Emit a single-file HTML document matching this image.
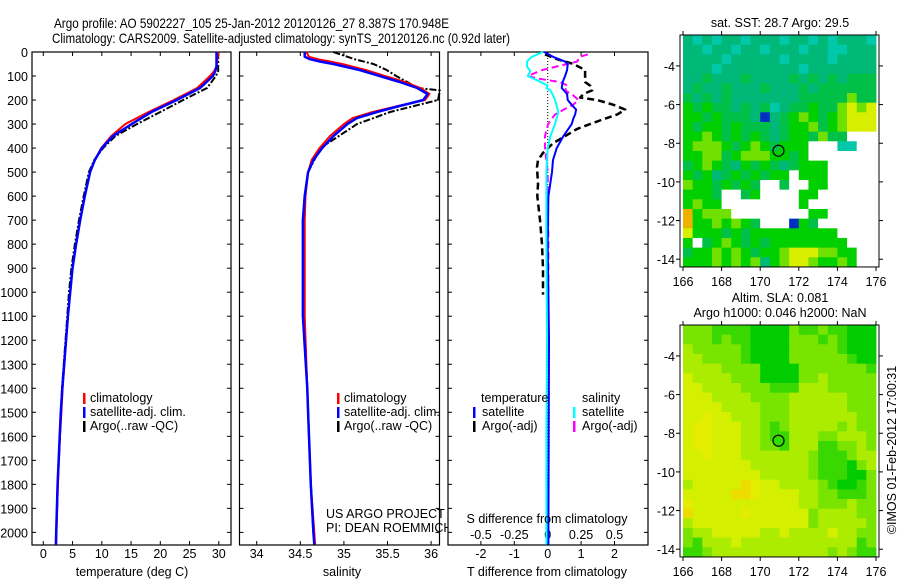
<!DOCTYPE html>
<html><head><meta charset="utf-8"><style>
html,body{margin:0;padding:0;background:#fff;}
svg{display:block;font-family:"Liberation Sans",sans-serif;}
</style></head><body>
<svg id="fig" width="900" height="580" viewBox="0 0 900 580" xmlns="http://www.w3.org/2000/svg">
<text x="54" y="28" font-size="14" textLength="395" lengthAdjust="spacingAndGlyphs">Argo profile: AO 5902227_105 25-Jan-2012 20120126_27 8.387S 170.948E</text>
<text x="52" y="43" font-size="14" textLength="458" lengthAdjust="spacingAndGlyphs">Climatology: CARS2009. Satellite-adjusted climatology: synTS_20120126.nc (0.92d later)</text>
<text x="896" y="450" font-size="12.5" transform="rotate(-90 896 450)" text-anchor="middle">©IMOS 01-Feb-2012 17:00:31</text>
<g id="plots"></g>
</svg>
<script>
// ---------- profile data ----------
const depthT = [0,60,80,100,150,200,250,300,350,400,450,500,600,700,800,900,1000,1100,1400,1500,1600,1800,2000,2050];
const tempSat = [29.6,29.6,29.4,29.0,26.8,22.8,18.5,15.1,11.9,10.0,8.8,8.0,7.1,6.3,5.6,5.0,4.6,4.2,3.25,3.0,2.8,2.45,2.2,2.15];
const tempClim = [29.9,29.6,29.2,28.5,26.3,22.3,18.0,14.0,11.6,9.9,8.8,8.0,7.1,6.3,5.6,5.0,4.6,4.2,3.3,3.1,2.85,2.5,2.25,2.2];
const depthTA = [0,80,100,150,200,250,300,350,400,450,500,600,700,800,900,1000,1100,1400,1600,1800,2000];
const tempArgo = [29.9,29.9,29.5,28.0,23.9,20.0,16.0,12.3,10.2,8.7,7.8,6.9,6.1,5.4,4.8,4.4,4.1,3.2,2.8,2.45,2.2];

const depthS = [0,20,30,40,50,75,100,125,150,175,200,225,250,275,300,350,400,450,500,600,700,1100,1400,1500,1800,2000,2050];
const salSat = [34.55,34.55,34.61,34.73,34.88,35.18,35.41,35.64,35.84,35.96,35.91,35.64,35.38,35.15,35.04,34.88,34.75,34.65,34.59,34.55,34.53,34.53,34.58,34.59,34.62,34.65,34.66];
const salClim = [34.57,34.6,34.7,34.85,34.98,35.25,35.47,35.7,35.88,35.98,35.93,35.62,35.33,35.1,35.0,34.84,34.72,34.63,34.59,34.56,34.55,34.55,34.58,34.59,34.62,34.66,34.67];
const depthSA = [0,30,50,75,100,150,160,200,250,300,400,500,600,700,1100,1400,1800,2000];
const salArgo = [34.88,35.12,35.34,35.49,35.6,35.85,36.1,36.08,35.53,35.15,34.73,34.59,34.55,34.53,34.53,34.58,34.62,34.65];

const depthD = [0,20,40,50,75,100,125,150,175,200,220,240,260,280,300,350,400,450,500,600,800,1200,1600,2050];
const tDiffSat = [-0.1,0.16,0.52,0.6,0.58,0.52,0.45,0.42,0.58,0.6,0.72,0.85,0.82,0.76,0.72,0.47,0.27,0.16,0.13,0.02,0.0,0.04,0.03,0.02];
const depthSD = [0,20,40,60,80,100,120,140,150,160,180,200,250,300,350,400,500,800,1200,1600,2050];
const sDiffSat = [-0.035,-0.12,-0.155,-0.155,-0.13,-0.15,-0.07,0.0,-0.01,0.02,0.04,0.055,0.08,0.055,0.02,0.0,-0.01,-0.01,-0.005,-0.01,-0.01];
const depthTDA = [10,30,50,75,100,125,140,160,175,190,200,220,240,260,280,300,320,350,380,420,450,480,550,600,700,800,900,1010];
const tDiffArgo = [-0.08,0.28,0.77,1.12,1.12,1.12,1.27,1.33,1.07,0.97,1.48,1.97,2.32,2.08,1.66,1.27,0.88,0.52,0.16,-0.14,-0.29,-0.32,-0.29,-0.31,-0.23,-0.17,-0.14,-0.14];
const depthSDA = [10,20,40,60,75,100,110,125,140,160,180,200,220,240,260,300,350,400,500,800,1045];
const sDiffArgo = [0.3,0.24,0.22,0.07,-0.04,-0.15,-0.08,0.09,0.15,0.13,0.19,0.23,0.19,0.12,0.055,0.003,-0.02,-0.02,0.0,0.005,0.005];

const depthTicks = [0,100,200,300,400,500,600,700,800,900,1000,1100,1200,1300,1400,1500,1600,1700,1800,1900,2000];
const tempTicks = [0,5,10,15,20,25,30];
const salTicks = [34,34.5,35,35.5,36];
const tDiffTicks = [-2,-1,0,1,2];
const sDiffTicks = [-0.5,-0.25,0,0.25,0.5];
const sDiffTickLabels = ["-0.5","-0.25","0","0.25","0.5"];

// ---------- map data ----------
const mapLonTicks = [166,168,170,172,174,176];
const mapLatTicks = [-4,-6,-8,-10,-12,-14];
const argoLon = 170.948, argoLat = -8.387;
const sstRows = [
"tctcttctttcttctctttc","ttcttcttctttcttccttt","ttttctttttcttttctttt","tttcttttttttcttttttt",
"ttgtttgttttgtgtgtggg","tgttgtttgtttgtgggggg","gtgtgtttttttggggglgg","GgGggtgtgctggGgglyly",
"GGgGgggtbtgGlGgGlyyy","GgGGgGgggtgGGlgGlyyy","GGlGgGgGgtgGGglggwww","GlllGgGlGgGGGwwwccww",
"GGllgGlllGGgGwwwwwww","gGlGgtGgGgtgGGGwwwww","GgGtgGgGgGGwGGGwwwww","lGGgGgGgwwgwwGGwwwww",
"GGGgwwgGwwwwGGwwwwww","GlGGwwwwwwwwGwwwwwww","oGlllwwwwwwwwGGwwwww","oGGlGlGgwwwbGgwwwwww",
"yGGGgGgGGGGGGGGGwwww","GwgGlGgGgGGGGGGGGwww","gGGlGlGgGGlyyyllGGww","GGGlGlGltGlyylGGlGww"];
const slaRows = [
"lllggggDDDDlgglggDDD","lllglggDDDDlllglgDDD","LlllllgDDDDlllllgDDD","LLllllgDDDDllllllgDD",
"LLLLllllDDDDlllllllg","yLLLLlllDDDDllLlllll","yyLLLLlllgggLLLlllll","yyyLLLLllllLLLLLLlll",
"yyyyLLLLlllLLLLLLlll","yyoyyLLLlllLLLLLLLll","yooyyyLLlglLLLLLlLll","yooyyyLLlggLLLllLLLl",
"yooyyyLLllgLLLggllLl","yyoyyyLLLLLLLlggglLL","yyyyyyyLLLLLLlgggDlL","yyyyyyyyLLLLLlgggDDl",
"LyyyyyOoyyLLLLlgDDgl","yyyyyOOoyyyyLLllgggl","oyyyyyyyyyyyLLlllLll","OyyyyyoyyyyyylLLLLll",
"LyyyyyyyyyyyylLLLLLl","lLLyyyyyLLyLLLLyLLll","lgLLLyLLLLLLLLLLLLgl","gglLLLLLLLLLLLLlLlgg"];

const NS = "http://www.w3.org/2000/svg";
const root = document.getElementById('plots');
function mk(tag, attrs, parent){ const e=document.createElementNS(NS,tag); for(const k in attrs) e.setAttribute(k,attrs[k]); (parent||root).appendChild(e); return e; }
function txt(x,y,s,size,anchor,parent){ const t=mk('text',{x:x,y:y,'font-size':size,'text-anchor':anchor||'start'},parent); t.textContent=s; return t; }

const top0 = 52, bot = 545;
function yD(d){ return 52 + d*0.2402; }

function panel(name,x0,x1){
  const g = mk('g',{});
  
  
  mk('rect',{x:x0,y:top0,width:x1-x0,height:bot-top0,fill:'#fff',stroke:'#000','stroke-width':1.2},g);
  for(const d of depthTicks){ const y=yD(d); mk('line',{x1:x0,y1:y,x2:x0+4,y2:y,stroke:'#000'},g); mk('line',{x1:x1-4,y1:y,x2:x1,y2:y,stroke:'#000'},g); }
  return g;
}
function xtick(g,x){ mk('line',{x1:x,y1:top0,x2:x,y2:top0+4,stroke:'#000'},g); mk('line',{x1:x,y1:bot-4,x2:x,y2:bot,stroke:'#000'},g); }
function line(g,name,xs,ds,fx,color,w,dash){
  const pts = xs.map((v,i)=>fx(v).toFixed(1)+','+yD(ds[i]).toFixed(1)).join(' ');
  const p = mk('polyline',{points:pts,fill:'none',stroke:color,'stroke-width':w,'stroke-linejoin':'round'},g);
  if(dash) p.setAttribute('stroke-dasharray',dash);
  
  
  return p;
}
function legendRow(g,bx,tx,y,color,label,name){
  mk('rect',{x:bx,y:y-9,width:2.5,height:11,fill:color},g);
  const t = txt(tx,y,label,12.5,'start',g);
  
  
}

// Panel 1: temperature
const xT = v => 43.3 + v*5.85;
const p1 = panel('temperature-panel',32,231);
tempTicks.forEach(v=>{ xtick(p1,xT(v)); txt(xT(v),558,String(v),12.5,'middle',p1); });
depthTicks.forEach(d=>{ txt(28,yD(d)+5,String(d),12.5,'end',p1); });
line(p1,'temp-argo-line',tempArgo,depthTA,xT,'#000',2,'7,2,2,2');
line(p1,'temp-climatology-line',tempClim,depthT,xT,'#ff0000',2);
line(p1,'temp-satellite-line',tempSat,depthT,xT,'#0000ff',2.5);
txt(132,576,'temperature (deg C)',12.5,'middle',p1);
legendRow(p1,83,90,402,'#ff0000','climatology','legend-climatology');
legendRow(p1,83,90,416,'#0000ff','satellite-adj. clim.','legend-satellite');
legendRow(p1,83,90,430,'#000','Argo(..raw -QC)','legend-argo');

// Panel 2: salinity
const xS = v => 256.7 + (v-34)*87.2;
const p2 = panel('salinity-panel',239.5,439.5);
salTicks.forEach(v=>{ xtick(p2,xS(v)); txt(xS(v),558,String(v),12.5,'middle',p2); });
line(p2,'sal-argo-line',salArgo,depthSA,xS,'#000',2,'7,2,2,2');
line(p2,'sal-climatology-line',salClim,depthS,xS,'#ff0000',2);
line(p2,'sal-satellite-line',salSat,depthS,xS,'#0000ff',2.5);
txt(342,576,'salinity',12.5,'middle',p2);
legendRow(p2,337,344,402,'#ff0000','climatology','legend-climatology-2');
legendRow(p2,337,344,416,'#0000ff','satellite-adj. clim.','legend-satellite-2');
legendRow(p2,337,344,430,'#000','Argo(..raw -QC)','legend-argo-2');
txt(326,518,'US ARGO PROJECT',12.5,'start',p2);
txt(326,532,'PI: DEAN ROEMMICH',12.5,'start',p2);

// Panel 3: differences
const xTD = v => 547.7 + v*33.4;
const xSD = v => 547.7 + v*133.6;
const p3 = panel('difference-panel',448,648);
tDiffTicks.forEach(v=>{ xtick(p3,xTD(v)); txt(xTD(v),558,String(v),12.5,'middle',p3); });
sDiffTicks.forEach((v,i)=>{ txt(xSD(v),539,sDiffTickLabels[i],12.5,'middle',p3); });
mk('line',{x1:547.7,y1:top0,x2:547.7,y2:bot,stroke:'#000','stroke-dasharray':'1,2'},p3);
line(p3,'tdiff-argo-line',tDiffArgo,depthTDA,xTD,'#000',2.5,'7,4');
line(p3,'sdiff-argo-line',sDiffArgo,depthSDA,xSD,'#ff00ff',2,'7,4');
line(p3,'tdiff-satellite-line',tDiffSat,depthD,xTD,'#0000ff',2);
line(p3,'sdiff-satellite-line',sDiffSat,depthSD,xSD,'#00ffff',2);
txt(547,523,'S difference from climatology',12.5,'middle',p3);
txt(547,576,'T difference from climatology',12.5,'middle',p3);
txt(481,402,'temperature',12.5,'start',p3);
txt(582,402,'salinity',12.5,'start',p3);
legendRow(p3,473,482,416,'#0000ff','satellite','legend-t-satellite');
legendRow(p3,473,482,430,'#000','Argo(-adj)','legend-t-argo');
legendRow(p3,573,582,416,'#00ffff','satellite','legend-s-satellite');
legendRow(p3,573,582,430,'#ff00ff','Argo(-adj)','legend-s-argo');

// Maps
const palSST = {c:'#00c8a8',t:'#00b878',g:'#00c048',G:'#00d000',l:'#70e000',y:'#d8f000',o:'#f0b000',b:'#0030c0',w:'#ffffff'};
const palSLA = {D:'#00cc00',g:'#38d800',l:'#78e400',L:'#acec00',y:'#d4f000',o:'#e4ec00',O:'#ecdc00'};
function map(name,rows,pal,boxTop,titles,circleFill){
  const g = mk('g',{});
  
  
  const x0=683, x1=876, lat0=-2.4, lat1=-14.4;
  const pxDeg=(x1-x0)/10, yLat0=boxTop;
  const mx = lon => x0 + (lon-166)*pxDeg;
  const my = lat => yLat0 + (lat0-lat)*19.33;
  const nR=rows.length, nC=rows[0].length;
  const cw=(x1-x0)/nC, ch=(my(lat1)-my(lat0))/nR;
  rows.forEach((r,i)=>{ for(let j=0;j<nC;j++){ mk('rect',{x:(x0+j*cw).toFixed(2),y:(my(lat0)+i*ch).toFixed(2),width:(cw+0.4).toFixed(2),height:(ch+0.4).toFixed(2),fill:pal[r[j]]},g);} });
  mk('rect',{x:x0-3,y:my(lat0),width:x1-x0+6,height:my(lat1)-my(lat0),fill:'none',stroke:'#000','stroke-width':1},g);
  mapLonTicks.forEach(v=>{ const x=mx(v); mk('line',{x1:x,y1:my(lat0),x2:x,y2:my(lat0)-4,stroke:'#000'},g); mk('line',{x1:x,y1:my(lat1),x2:x,y2:my(lat1)+4,stroke:'#000'},g); txt(x,my(lat1)+19,String(v),12.5,'middle',g); });
  mapLatTicks.forEach(v=>{ const y=my(v); mk('line',{x1:x0-3,y1:y,x2:x0-7,y2:y,stroke:'#000'},g); mk('line',{x1:x1+3,y1:y,x2:x1+7,y2:y,stroke:'#000'},g); txt(675,y+5,String(v),12.5,'end',g); });
  const c = mk('circle',{cx:mx(argoLon),cy:my(argoLat),r:5.5,fill:circleFill,stroke:'#000','stroke-width':1.2},g);
  
  
  titles.forEach((t,i)=>{ txt(780,boxTop-23+i*15 + (titles.length===1?15:0),t,12.5,'middle',g); });
}
map('sst-map',sstRows,palSST,35,['sat. SST: 28.7  Argo: 29.5'],'none');
map('sla-map',slaRows,palSLA,325,['Altim. SLA: 0.081','Argo h1000: 0.046 h2000: NaN'],'#33dd00');
</script>
</body></html>
